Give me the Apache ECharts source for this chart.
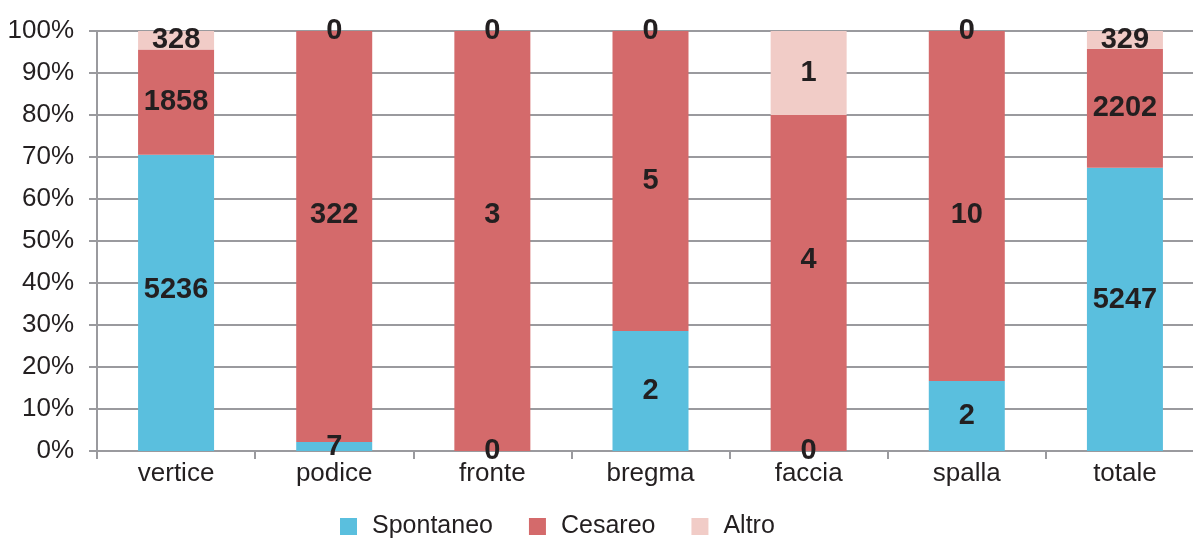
<!DOCTYPE html>
<html>
<head>
<meta charset="utf-8">
<script src="https://cdn.jsdelivr.net/npm/echarts@6/dist/echarts.min.js"></script>
<style>
  html, body { margin: 0; padding: 0; background: #fff; overflow: hidden; }
  #chart { width: 1210px; height: 539px; }
</style>
</head>
<body>
<div id="chart"></div>
<script>
// Presentazione del feto e modalità del parto (conteggi)
const categories = ['vertice', 'podice', 'fronte', 'bregma', 'faccia', 'spalla', 'totale'];
const spontaneo = [5236, 7, 0, 2, 0, 2, 5247];
const cesareo   = [1858, 322, 3, 5, 4, 10, 2202];
const altro     = [328, 0, 0, 0, 1, 0, 329];
const yTicks = [0, 10, 20, 30, 40, 50, 60, 70, 80, 90, 100];

// Vertical nudges (px) for a few value labels, by series and category
const labelNudge = {
  Spontaneo: { vertice: -13, totale: -9 },
  Cesareo: { podice: -22, fronte: -26, faccia: -23, spalla: 9 }
};

const FONT = '"Liberation Sans Narrow", "Liberation Sans", sans-serif';
const totals = categories.map((_, i) => spontaneo[i] + cesareo[i] + altro[i]);

function toPercent(name, arr) {
  const nudge = labelNudge[name] || {};
  return arr.map((v, i) => {
    const item = { value: totals[i] ? v / totals[i] * 100 : 0, count: v };
    const dy = nudge[categories[i]];
    if (dy) item.label = { offset: [0, dy] };
    return item;
  });
}

const labelStyle = {
  show: true,
  position: 'inside',
  formatter: p => String(p.data.count),
  color: '#231F20',
  fontFamily: '"Liberation Sans", Arial, sans-serif',
  fontWeight: 'bold',
  fontSize: 29
};

function series(name, arr, color) {
  return {
    name, type: 'bar', stack: 'tot', barWidth: 76,
    itemStyle: { color },
    label: labelStyle,
    data: toPercent(name, arr)
  };
}

const chart = echarts.init(document.getElementById('chart'), null, { renderer: 'canvas' });
chart.setOption({
  animation: false,
  textStyle: { fontFamily: FONT },
  grid: { left: 97, top: 31, width: 1107, bottom: 88, containLabel: false },
  legend: {
    top: 514, left: 340, padding: 0, itemWidth: 17, itemHeight: 17, itemGap: 36,
    icon: 'rect',
    textStyle: { fontFamily: FONT, fontSize: 25, color: '#231F20', padding: [0, 0, 0, 10] },
    data: ['Spontaneo', 'Cesareo', 'Altro']
  },
  xAxis: {
    type: 'category', data: categories,
    axisLine: { lineStyle: { color: '#9A9A9E', width: 2 } },
    axisTick: { show: true, length: 8, lineStyle: { color: '#9A9A9E', width: 2 } },
    axisLabel: { fontFamily: FONT, fontSize: 26, color: '#231F20', margin: 10 }
  },
  yAxis: {
    type: 'value', min: 0, max: 100, interval: 10,
    axisLine: { show: true, lineStyle: { color: '#9A9A9E', width: 2 } },
    axisTick: { show: true, length: 8, lineStyle: { color: '#9A9A9E', width: 2 } },
    splitLine: { lineStyle: { color: '#9A9A9E', width: 2 } },
    axisLabel: {
      fontFamily: FONT, fontSize: 26, color: '#231F20', margin: 23,
      formatter: v => yTicks.includes(v) ? v + '%' : ''
    }
  },
  series: [
    series('Spontaneo', spontaneo, '#5ABFDE'),
    series('Cesareo', cesareo, '#D46A6B'),
    series('Altro', altro, '#F1CCC7')
  ]
});
</script>
</body>
</html>
